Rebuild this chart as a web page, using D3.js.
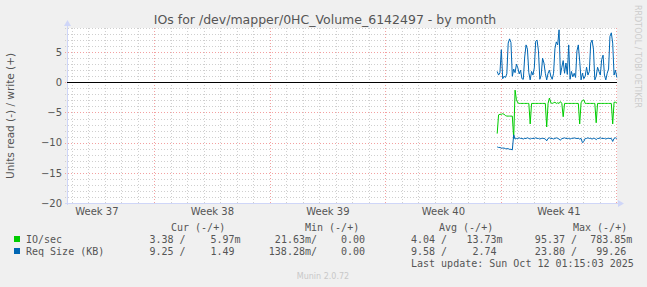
<!DOCTYPE html>
<html>
<head>
<meta charset="utf-8">
<script src="https://cdn.jsdelivr.net/npm/d3@7"></script>
<style>
  body { margin: 0; background: #f0f0f0; }
  svg { display: block; }
  text { font-family: "DejaVu Sans", sans-serif; }
  .mono { font-family: "DejaVu Sans Mono", monospace; font-size: 10px; fill: #555; }
</style>
</head>
<body>
<script>
var title = "IOs for /dev/mapper/0HC_Volume_6142497 - by month";
var yLabel = "Units read (-) / write (+)";
var lastUpdate = "Last update: Sun Oct 12 01:15:03 2025";
var footer = "Munin 2.0.72";
var watermark = "RRDTOOL / TOBI OETIKER";

// time window: 800h ending at last update
var endTime = new Date(Date.UTC(2025, 9, 12, 1, 15, 3));
var startTime = new Date(endTime.getTime() - 800 * 3600 * 1000);
var dataStart = Date.UTC(2025, 9, 4, 19, 0, 0);
var stepMs = 2 * 3600 * 1000;

var yTicks = [5, 0, -5, -10, -15, -20];

// read values are plotted below zero
var ioRead = [8.5, 5.4, 5.3, 5.3, 5.2, 5.3, 5.5, 5.6, 5.6, 5.6, 5.6, 5.6,
  9.3, 1.3, 2.9, 3.4, 3.5, 3.5, 3.5, 3.5, 3.5, 3.5, 3.5, 3.5,
  6.9, 3.5, 3.5, 3.5, 3.5, 3.5, 3.5, 3.5, 3.5, 3.5, 3.5, 3.5,
  7.4, 3.5, 2.6, 3.4, 3.5, 3.4, 3.3, 3.5, 3.4, 3.5, 3.2, 3.5,
  5.7, 3.5, 3.5, 3.5, 3.5, 3.5, 3.5, 3.5, 3.5, 3.5, 3.5, 3.5,
  6.9, 3.4, 3.0, 2.9, 3.5, 3.5, 3.5, 3.5, 3.5, 3.5, 3.5, 3.5,
  6.7, 3.5, 3.5, 3.5, 3.5, 3.5, 3.5, 3.5, 3.5, 3.5, 3.5, 3.5,
  6.9, 3.3, 3.3, 3.4];
var sizeRead = [10.7, 10.8, 10.8, 10.9, 10.9, 10.9, 11.0, 11.0, 11.0, 11.1, 11.1, 11.2,
  8.7, 9.4, 9.3, 9.3, 9.2, 9.3, 9.3, 9.4, 9.3, 9.3, 9.2, 9.3,
  9.4, 9.3, 9.3, 9.3, 9.2, 9.3, 9.3, 9.4, 9.3, 9.3, 9.3, 9.4,
  9.7, 9.3, 9.2, 9.3, 9.3, 9.4, 9.3, 9.2, 9.3, 9.4, 9.6, 9.3,
  9.3, 9.2, 9.3, 9.3, 9.3, 9.4, 9.3, 9.3, 9.2, 9.3, 9.3, 9.3,
  9.4, 9.3, 10.0, 9.8, 9.3, 9.3, 9.2, 9.3, 9.3, 9.4, 9.3, 9.3,
  9.5, 9.3, 9.3, 9.2, 9.3, 9.3, 9.3, 9.4, 9.3, 9.3, 9.3, 9.3,
  9.8, 9.3, 9.2, 9.3];
var sizeWrite = [1.8, 1.2, 1.6, 5.4, 0.6, 1.0, 0.8, 1.4, 6.5, 7.2, 6.6, 1.0,
  2.2, 1.6, 3.0, 2.4, 1.4, 2.0, 0.6, 0.5, 4.2, 6.2, 5.5, 1.6,
  0.4, 1.8, 1.2, 2.4, 6.8, 7.0, 5.2, 0.5, 1.2, 4.0, 3.2, 1.5,
  0.4, 1.5, 2.0, 1.0, 0.5, 1.5, 5.6, 6.7, 6.2, 8.7, 1.2, 2.5,
  3.6, 1.5, 3.2, 1.3, 6.2, 0.5, 1.8, 0.9, 1.5, 0.8, 5.2, 6.2,
  3.5, 0.4, 1.5, 0.6, 1.0, 2.5, 1.2, 1.8, 6.5, 7.0, 5.5, 0.4,
  1.0, 2.5, 1.8, 1.2, 3.8, 4.5, 1.2, 0.4, 1.5, 2.2, 7.6, 8.2,
  6.5, 1.2, 2.0, 0.8];

var legendNames = ["IO/sec", "Req Size (KB)"];
var legendColors = ["#00cc00", "#0066b3"];
var legendHeads = ["Cur (-/+)", "Min (-/+)", "Avg (-/+)", "Max (-/+)"];
// [read, write] pairs, value with unit suffix
var legendCur = [["3.38", "5.97m"], ["9.25", "1.49"]];
var legendMin = [["21.63m", "0.00"], ["138.28m", "0.00"]];
var legendAvg = [["4.04", "13.73m"], ["9.58", "2.74"]];
var legendMax = [["95.37", "783.85m"], ["23.80", "99.26"]];

var W = 647, H = 287;
var plot = { left: 67, right: 617, top: 28, bottom: 203 };

var svg = d3.select("body").append("svg").attr("width", W).attr("height", H);
svg.append("rect").attr("width", W).attr("height", H).attr("fill", "#f0f0f0");

var x = d3.scaleUtc().domain([startTime, endTime]).range([plot.left, plot.right]);
var y = d3.scaleLinear().domain([-20, 9]).range([plot.bottom, plot.top]);

svg.append("rect")
  .attr("x", plot.left).attr("y", plot.top)
  .attr("width", plot.right - plot.left).attr("height", plot.bottom - plot.top)
  .attr("fill", "#ffffff");

// grid
var grid = svg.append("g");
d3.range(-20, 10).forEach(function (v) {
  var major = v % 5 === 0;
  grid.append("line")
    .attr("x1", plot.left - 2).attr("x2", plot.right)
    .attr("y1", Math.round(y(v)) + 0.5).attr("y2", Math.round(y(v)) + 0.5)
    .attr("stroke", major ? "#f3a0a0" : "#cfcfcf")
    .attr("stroke-dasharray", "1,2");
});
d3.utcDay.range(startTime, endTime).forEach(function (d) {
  var major = d.getUTCDay() === 0;
  var px = Math.round(x(d)) + 0.5;
  grid.append("line")
    .attr("x1", px).attr("x2", px)
    .attr("y1", plot.top).attr("y2", plot.bottom + 2)
    .attr("stroke", major ? "#f3a0a0" : "#cfcfcf")
    .attr("stroke-dasharray", "1,2");
});

// axes lines + arrows
var axisColor = "#cfd6f8";
svg.append("line").attr("x1", plot.left - 2).attr("x2", plot.right + 2)
  .attr("y1", plot.bottom + 0.5).attr("y2", plot.bottom + 0.5).attr("stroke", axisColor);
svg.append("line").attr("x1", plot.left + 0.5).attr("x2", plot.left + 0.5)
  .attr("y1", plot.bottom + 2).attr("y2", plot.top - 3).attr("stroke", axisColor);
svg.append("path").attr("d", "M" + (plot.right + 1) + "," + (plot.bottom - 3) + "L" + (plot.right + 7) + "," + (plot.bottom + 0.5) + "L" + (plot.right + 1) + "," + (plot.bottom + 4) + "Z")
  .attr("fill", axisColor);
svg.append("path").attr("d", "M" + (plot.left - 3) + "," + (plot.top - 2) + "L" + (plot.left + 0.5) + "," + (plot.top - 8) + "L" + (plot.left + 4) + "," + (plot.top - 2) + "Z")
  .attr("fill", axisColor);

// y tick labels
var yAxis = svg.append("g")
  .attr("transform", "translate(" + (plot.left - 5) + ",0)")
  .call(d3.axisLeft(y).tickValues(yTicks).tickSize(0).tickPadding(0));
yAxis.select(".domain").remove();
yAxis.selectAll("text").attr("font-size", 10).attr("fill", "#555")
  .attr("font-family", "DejaVu Sans");

// x labels: week names centred in each week
var weekMids = d3.utcSunday.range(d3.utcSunday.floor(startTime), endTime)
  .map(function (d) { return d3.utcHour.offset(d, 84); })
  .filter(function (d) { return d >= startTime && d <= endTime; });
var xAxis = svg.append("g")
  .attr("transform", "translate(0," + (plot.bottom + 5) + ")")
  .call(d3.axisBottom(x).tickValues(weekMids).tickSize(0).tickPadding(0)
    .tickFormat(d3.utcFormat("Week %V")));
xAxis.select(".domain").remove();
xAxis.selectAll("text").attr("font-size", 10).attr("fill", "#555")
  .attr("font-family", "DejaVu Sans");

// series
function series(values, sign) {
  return values.map(function (v, i) {
    return { t: new Date(dataStart + i * stepMs), v: sign * v };
  });
}
var line = d3.line().x(function (d) { return x(d.t); }).y(function (d) { return y(d.v); });

svg.append("line").attr("x1", plot.left).attr("x2", plot.right)
  .attr("y1", Math.round(y(0)) + 0.5).attr("y2", Math.round(y(0)) + 0.5)
  .attr("stroke", "#000");

svg.append("path").datum(series(ioRead, -1)).attr("d", line)
  .attr("fill", "none").attr("stroke", legendColors[0]).attr("stroke-width", 1);
svg.append("path").datum(series(sizeRead, -1)).attr("d", line)
  .attr("fill", "none").attr("stroke", legendColors[1]).attr("stroke-width", 1);
svg.append("path").datum(series(sizeWrite, 1)).attr("d", line)
  .attr("fill", "none").attr("stroke", legendColors[1]).attr("stroke-width", 1);

// title and labels
svg.append("text").attr("x", 325).attr("y", 24).attr("text-anchor", "middle")
  .attr("font-size", 12.5).attr("fill", "#555").text(title);
svg.append("text").attr("transform", "translate(14,116) rotate(-90)")
  .attr("text-anchor", "middle").attr("font-size", 10.5).attr("fill", "#555").text(yLabel);
svg.append("text").attr("transform", "translate(635,5) rotate(90)")
  .attr("font-size", 8).attr("fill", "#cccccc").text(watermark);
svg.append("text").attr("x", 323).attr("y", 279).attr("text-anchor", "middle")
  .attr("font-size", 8).attr("fill", "#c8c8c8").text(footer);

// legend (monospace, right aligned columns)
var cw = 6.02;
function mono(str, endX, yy) {
  svg.append("text").attr("class", "mono").attr("xml:space", "preserve")
    .style("white-space", "pre")
    .attr("x", endX - str.length * cw).attr("y", yy).text(str);
}
function withUnit(s) { return /[a-zA-Z]$/.test(s) ? s : s + " "; }
var headX = [171, 305, 439, 573];
legendHeads.forEach(function (h, i) {
  svg.append("text").attr("class", "mono").attr("x", headX[i]).attr("y", 231).text(h);
});
var readEnds = [185.6, 317, 447, 577];
var writeEnds = [240.5, 371, 502.5, 632.4];
var rowY = [243, 255];
legendNames.forEach(function (name, r) {
  svg.append("rect").attr("x", 14).attr("y", rowY[r] - 7).attr("width", 6).attr("height", 6)
    .attr("fill", legendColors[r]);
  svg.append("text").attr("class", "mono").attr("x", 26).attr("y", rowY[r]).text(name);
  [legendCur, legendMin, legendAvg, legendMax].forEach(function (col, c) {
    mono(withUnit(col[r][0]) + "/", readEnds[c], rowY[r]);
    mono(withUnit(col[r][1]), writeEnds[c], rowY[r]);
  });
});
svg.append("text").attr("class", "mono").attr("x", 411).attr("y", 267).text(lastUpdate);
</script>
</body>
</html>
